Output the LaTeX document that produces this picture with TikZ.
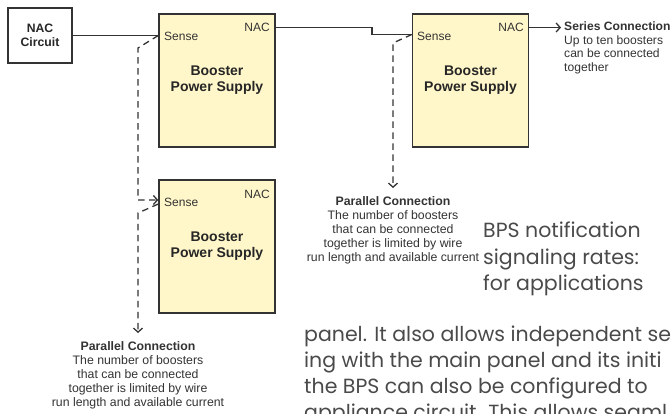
\documentclass[tikz,border=0pt]{standalone}
\usepackage{fontspec}
\setmainfont{Liberation Sans}
\newfontfamily\bodyfont{Poppins}
\usetikzlibrary{arrows.meta}
\definecolor{bpsyellow}{HTML}{FFF7C9}
\definecolor{bpsgray}{HTML}{333333}
\definecolor{bodygray}{HTML}{4A4A4A}

\begin{document}
\begin{tikzpicture}[x=1pt,y=-1pt,
  bpsbox/.style={draw=bpsgray,line width=1.4pt,fill=bpsyellow,minimum width=116pt,minimum height=133pt,align=center,font=\fontsize{14}{16}\selectfont\bfseries,text=black!85},
  nacbox/.style={draw=bpsgray,line width=1.4pt,fill=white,minimum width=64pt,minimum height=55pt,align=center,font=\fontsize{12.2}{14}\selectfont\bfseries,text=black!85},
  port/.style={inner sep=0pt,font=\fontsize{12}{14}\selectfont,text=black!80},
  wire/.style={draw=bpsgray,line width=1.3pt},
  sensewire/.style={wire,dash pattern=on 6.5pt off 4.5pt},
  note/.style={inner sep=0pt,align=center,font=\fontsize{12.3}{14}\selectfont,text=black!80},
  bodytext/.style={inner sep=0pt,font=\bodyfont\fontsize{20.5}{26}\selectfont,text=bodygray},
  >={Straight Barb[length=4pt,width=9pt]}]
  \useasboundingbox (0,0) rectangle (672,414);
  \node[nacbox] (nac) at (40,35.5) {NAC\\Circuit};
  \node[bpsbox] (bps1) at (217,80.5) {Booster\\Power Supply};
  \node[bpsbox] (bps2) at (470.5,80.5) {Booster\\Power Supply};
  \node[bpsbox] (bps3) at (217,246.5) {Booster\\Power Supply};
  \node[port,anchor=west] (sense1) at (164,36) {Sense};
  \node[port,anchor=east] (out1) at (270,27.5) {NAC};
  \node[port,anchor=west] (sense2) at (417,36) {Sense};
  \node[port,anchor=east] (out2) at (524,27.5) {NAC};
  \node[port,anchor=west] (sense3) at (164,202) {Sense};
  \node[port,anchor=east] (out3) at (270,194) {NAC};
  \node[note,anchor=north west,align=left,font=\fontsize{12.1}{13.5}\selectfont] (series) at (564,22)
    {\textbf{Series Connection}\\Up to ten boosters\\can be connected\\together};
  \node[note,anchor=north] (pc2) at (393,196)
    {\textbf{Parallel Connection}\\The number of boosters\\that can be connected\\together is limited by wire\\run length and available current};
  \node[note,anchor=north] (pc1) at (138,341)
    {\textbf{Parallel Connection}\\The number of boosters\\that can be connected\\together is limited by wire\\run length and available current};
  \draw[wire] (nac.east) -- (nac.east -| bps1.west);
  \draw[wire] (bps1.east |- out1) -- (372,27.5) -- (372,34.5) -- (bps2.west |- 0,34.5);
  \draw[wire,->,shorten >=3pt] (bps2.east |- out2) -- (series.west |- out2);
  \draw[sensewire,->] (bps1.west |- 0,35.5) -- (138,48) -- (138,200) -- (bps3.west |- 0,200);
  \draw[sensewire,->,shorten >=8pt] (bps3.west |- 0,204) -- (138,213) -- (pc1.north);
  \draw[sensewire,->,shorten >=8pt] (bps2.west |- 0,34.5) -- (393,43) -- (pc2.north);
  \begin{scope}
    \clip (0,0) rectangle (672,414);
    \node[bodytext,anchor=base west] (body1) at (483,238) {BPS notification};
    \node[bodytext,anchor=base west] (body2) at (483,264) {signaling rates:};
    \node[bodytext,anchor=base west] (body3) at (483,290) {for applications};
    \node[bodytext,anchor=base west] (body4) at (304,341) {panel. It also allows independent se};
    \node[bodytext,anchor=base west] (body5) at (304,367) {ing with the main panel and its initi};
    \node[bodytext,anchor=base west] (body6) at (304,393) {the BPS can also be configured to};
    \node[bodytext,anchor=base west] (body7) at (304,419) {appliance circuit. This allows seaml};
  \end{scope}
\end{tikzpicture}
\end{document}
